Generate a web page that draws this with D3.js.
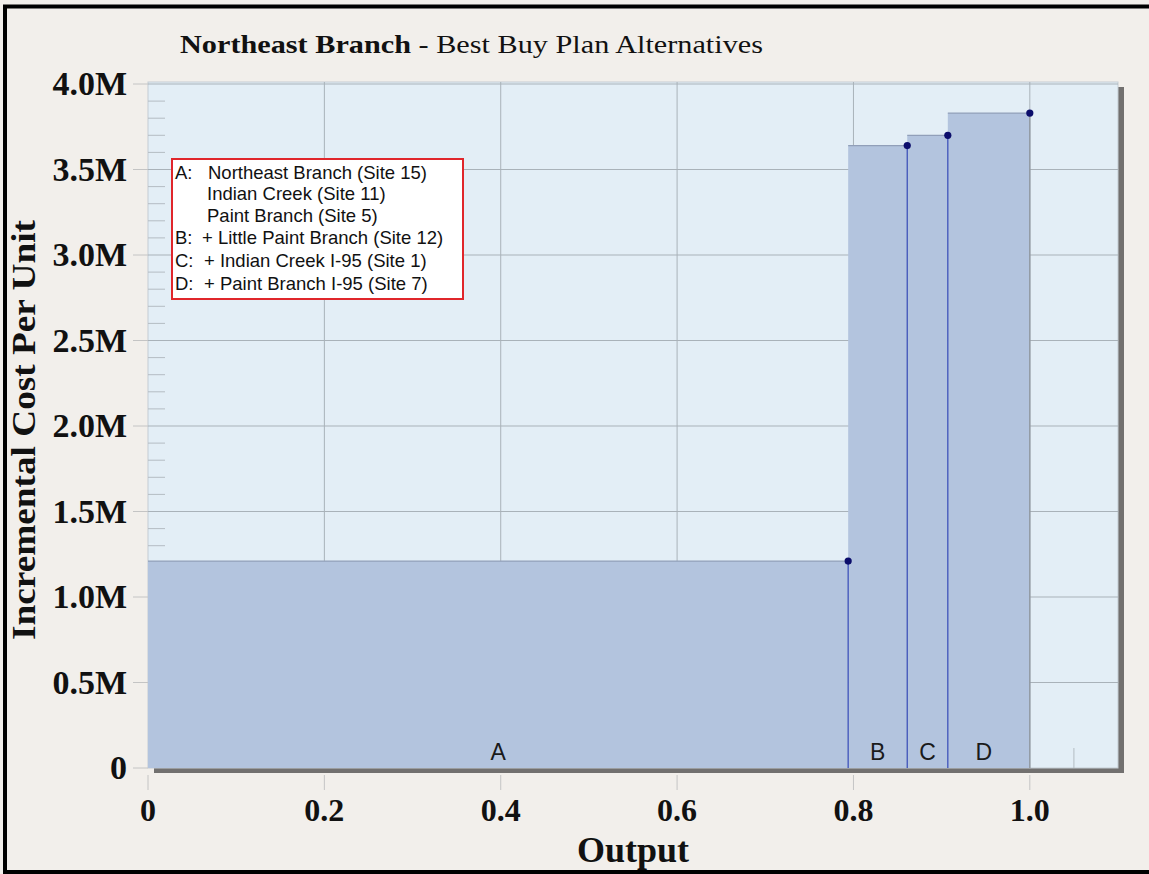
<!DOCTYPE html>
<html><head><meta charset="utf-8">
<script src="https://cdn.jsdelivr.net/npm/d3@7"></script>
<style>
html,body{margin:0;padding:0;background:#f2efeb;}
svg{display:block;}
</style></head>
<body>
<script>
// ---- data ----
const categories = ["A", "B", "C", "D"];
const outputStart = [0, 0.794, 0.861, 0.907];
const outputEnd = [0.794, 0.861, 0.907, 1.0];
const costPerUnit = [1.21e6, 3.64e6, 3.70e6, 3.83e6];
const yTickValues = [0, 0.5e6, 1.0e6, 1.5e6, 2.0e6, 2.5e6, 3.0e6, 3.5e6, 4.0e6];
const yTickLabels = ["0", "0.5M", "1.0M", "1.5M", "2.0M", "2.5M", "3.0M", "3.5M", "4.0M"];
const xTickValues = [0, 0.2, 0.4, 0.6, 0.8, 1.0];
const xTickLabels = ["0", "0.2", "0.4", "0.6", "0.8", "1.0"];
const legendKeys = ["A:", "", "", "B:", "C:", "D:"];
const legendTexts = ["Northeast Branch (Site 15)", "Indian Creek (Site 11)", "Paint Branch (Site 5)",
  "+ Little Paint Branch (Site 12)", "+ Indian Creek I-95 (Site 1)", "+ Paint Branch I-95 (Site 7)"];
const titleBold = "Northeast Branch";
const titleRest = " - Best Buy Plan Alternatives";
const xTitle = "Output";
const yTitle = "Incremental Cost Per Unit";

// ---- layout ----
const W = 1149, H = 874;
const L = 148, R = 1118, T = 82, B = 768;
const svg = d3.select("body").append("svg").attr("width", W).attr("height", H);

svg.append("rect").attr("x", 0).attr("y", 0).attr("width", W).attr("height", H).attr("fill", "#f2efeb");
svg.append("rect").attr("x", 5).attr("y", 6.5).attr("width", W + 10).attr("height", 865.5)
  .attr("fill", "none").attr("stroke", "#000").attr("stroke-width", 4);

const x = d3.scaleLinear().domain([0, 1.1]).range([L, R]);
const y = d3.scaleLinear().domain([0, 4.0e6]).range([B, 84]);

// shadow
svg.append("rect").attr("x", L + 6).attr("y", T + 5).attr("width", R - L).attr("height", B - T)
  .attr("fill", "#72706f");
// plot background
svg.append("rect").attr("x", L).attr("y", T).attr("width", R - L).attr("height", B - T)
  .attr("fill", "#e3eef6").attr("stroke", "#c3ccd3").attr("stroke-width", 1);

const g = svg.append("g");
// grid
g.selectAll(".hg").data(yTickValues.slice(1)).join("line")
  .attr("x1", L).attr("x2", R).attr("y1", d => y(d)).attr("y2", d => y(d))
  .attr("stroke", "#a9b2b9").attr("stroke-width", 1);
g.selectAll(".vg").data(xTickValues.slice(1)).join("line")
  .attr("x1", d => x(d)).attr("x2", d => x(d)).attr("y1", T).attr("y2", B)
  .attr("stroke", "#a9b2b9").attr("stroke-width", 1);
// minor ticks (inside)
const yMinor = d3.range(1, 40).map(i => i * 1e5).filter(v => Math.round(v / 1e5) % 5 !== 0);
g.selectAll(".ym").data(yMinor).join("line")
  .attr("x1", L).attr("x2", L + 17).attr("y1", d => y(d)).attr("y2", d => y(d))
  .attr("stroke", "#b4bcc3").attr("stroke-width", 1);
const xMinor = d3.range(1, 22).map(i => i * 0.05).filter(v => Math.round(v * 20) % 4 !== 0);
g.selectAll(".xm").data(xMinor).join("line")
  .attr("x1", d => x(d)).attr("x2", d => x(d)).attr("y1", B - 20).attr("y2", B)
  .attr("stroke", "#b4bcc3").attr("stroke-width", 1);
// outer ticks
g.selectAll(".yo").data(yTickValues).join("line")
  .attr("x1", L - 15).attr("x2", L).attr("y1", d => y(d)).attr("y2", d => y(d))
  .attr("stroke", "#c4c4c4").attr("stroke-width", 1);
g.selectAll(".xo").data(xTickValues).join("line")
  .attr("x1", d => x(d)).attr("x2", d => x(d)).attr("y1", B + 7).attr("y2", B + 22)
  .attr("stroke", "#c4c4c4").attr("stroke-width", 1);

// bars
const idx = d3.range(categories.length);
g.selectAll(".bar").data(idx).join("rect")
  .attr("x", i => x(outputStart[i])).attr("width", i => x(outputEnd[i]) - x(outputStart[i]))
  .attr("y", i => y(costPerUnit[i])).attr("height", i => y(0) - y(costPerUnit[i]))
  .attr("fill", "#b3c4de");
// top edges
g.selectAll(".top").data(idx).join("line")
  .attr("x1", i => x(outputStart[i])).attr("x2", i => x(outputEnd[i]))
  .attr("y1", i => y(costPerUnit[i])).attr("y2", i => y(costPerUnit[i]))
  .attr("stroke", "#919fb9").attr("stroke-width", 1.2);
// right edges
g.selectAll(".edge").data(idx).join("line")
  .attr("x1", i => x(outputEnd[i])).attr("x2", i => x(outputEnd[i]))
  .attr("y1", i => y(costPerUnit[i])).attr("y2", B)
  .attr("stroke", i => i < idx.length - 1 ? "#3e52b9" : "#8d949c").attr("stroke-width", 1.3);
// points
g.selectAll(".pt").data(idx).join("circle")
  .attr("cx", i => x(outputEnd[i])).attr("cy", i => y(costPerUnit[i])).attr("r", 3.6)
  .attr("fill", "#0b0d6b");
// segment labels
g.selectAll(".lab").data(idx).join("text")
  .attr("x", i => (x(outputStart[i]) + x(outputEnd[i])) / 2 - (i === 3 ? 5 : 0))
  .attr("y", B - 8).attr("text-anchor", "middle")
  .attr("font-family", "Liberation Sans, Arial, sans-serif").attr("font-size", 23)
  .attr("fill", "#1a1a1a").text(i => categories[i]);

// tick labels
const serif = "Liberation Serif, Times New Roman, serif";
svg.selectAll(".yl").data(yTickValues).join("text")
  .attr("x", 127).attr("y", d => y(d) + 11).attr("text-anchor", "end")
  .attr("font-family", serif).attr("font-weight", "bold").attr("font-size", 34)
  .attr("fill", "#111").text((d, i) => yTickLabels[i]);
svg.selectAll(".xl").data(xTickValues).join("text")
  .attr("x", d => x(d)).attr("y", 821).attr("text-anchor", "middle")
  .attr("font-family", serif).attr("font-weight", "bold").attr("font-size", 32)
  .attr("fill", "#111").text((d, i) => xTickLabels[i]);

// axis titles
svg.append("text").attr("x", 633).attr("y", 862).attr("text-anchor", "middle")
  .attr("font-family", serif).attr("font-weight", "bold").attr("font-size", 35)
  .attr("textLength", 112).attr("lengthAdjust", "spacingAndGlyphs")
  .attr("fill", "#111").text(xTitle);
svg.append("text").attr("transform", "translate(35,430) rotate(-90)").attr("text-anchor", "middle")
  .attr("font-family", serif).attr("font-weight", "bold").attr("font-size", 33)
  .attr("textLength", 420).attr("lengthAdjust", "spacingAndGlyphs")
  .attr("fill", "#111").text(yTitle);

// title
const tt = svg.append("text").attr("x", 180).attr("y", 53)
  .attr("font-family", serif).attr("font-size", 26).attr("fill", "#111")
  .attr("textLength", 583).attr("lengthAdjust", "spacingAndGlyphs");
tt.append("tspan").attr("font-weight", "bold").text(titleBold);
tt.append("tspan").text(titleRest);

// legend
const lg = svg.append("g");
lg.append("rect").attr("x", 172).attr("y", 159).attr("width", 291).attr("height", 140)
  .attr("fill", "#ffffff").attr("stroke", "#e0262b").attr("stroke-width", 2);
const ly = [172, 193, 215, 237, 260, 283];
lg.selectAll(".lk").data(legendKeys).join("text")
  .attr("x", 175).attr("y", (d, i) => ly[i] + 6.5)
  .attr("font-family", "Liberation Sans, Arial, sans-serif").attr("font-size", 18.5)
  .attr("fill", "#111").text(d => d);
const lx = [208, 207, 207, 202, 204, 204];
lg.selectAll(".lt").data(legendTexts).join("text")
  .attr("x", (d, i) => lx[i]).attr("y", (d, i) => ly[i] + 6.5)
  .attr("font-family", "Liberation Sans, Arial, sans-serif").attr("font-size", 18.5)
  .attr("fill", "#111").text(d => d);
</script>
</body></html>
